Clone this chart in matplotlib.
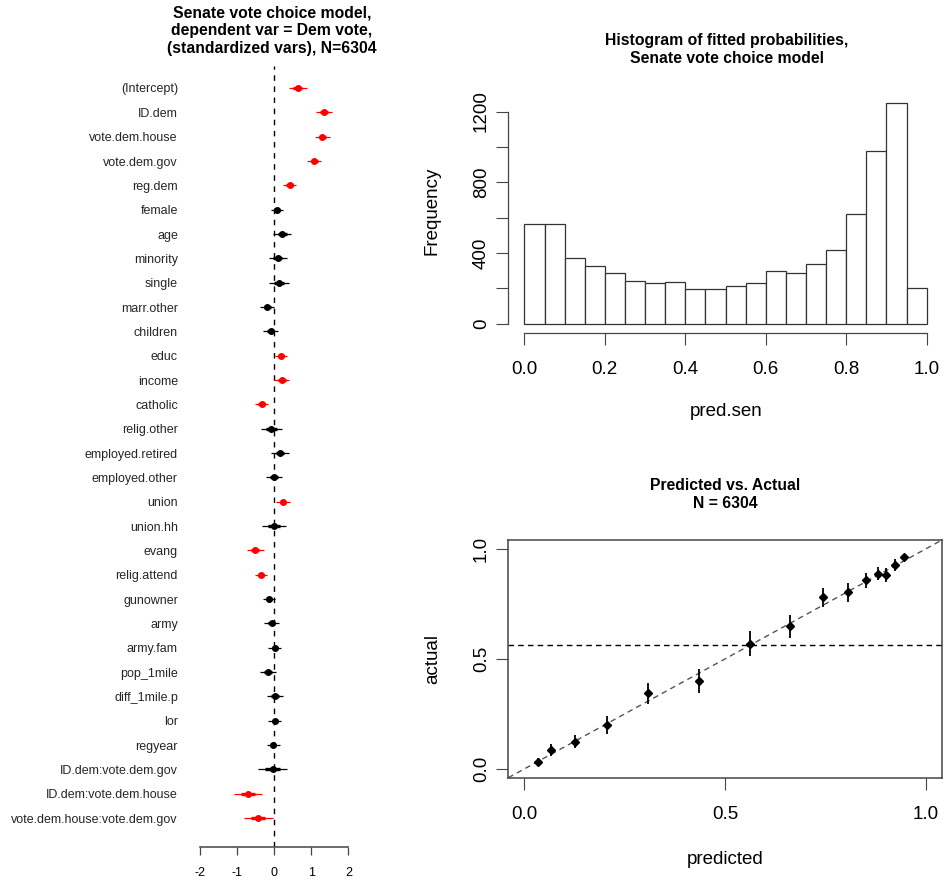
import numpy as np
import matplotlib
matplotlib.use("Agg")
import matplotlib.pyplot as plt

plt.rcParams['font.family'] = ['Liberation Sans', 'DejaVu Sans']

# coefficient plot data (standardized logit coefficients, +/- se)
coef_names = ["(Intercept)", "ID.dem", "vote.dem.house", "vote.dem.gov", "reg.dem",
              "female", "age", "minority", "single", "marr.other", "children",
              "educ", "income", "catholic", "relig.other", "employed.retired",
              "employed.other", "union", "union.hh", "evang", "relig.attend",
              "gunowner", "army", "army.fam", "pop_1mile", "diff_1mile.p", "lor",
              "regyear", "ID.dem:vote.dem.gov", "ID.dem:vote.dem.house",
              "vote.dem.house:vote.dem.gov"]
coef_est = [0.64, 1.34, 1.30, 1.08, 0.42,
            0.08, 0.22, 0.10, 0.13, -0.18, -0.09,
            0.20, 0.21, -0.33, -0.07, 0.16,
            0.00, 0.24, 0.01, -0.50, -0.34,
            -0.13, -0.06, 0.02, -0.16, 0.02, 0.02,
            -0.02, -0.04, -0.70, -0.42]
coef_se = [0.12, 0.11, 0.10, 0.09, 0.09,
           0.085, 0.125, 0.12, 0.13, 0.095, 0.10,
           0.08, 0.10, 0.09, 0.14, 0.115,
           0.11, 0.09, 0.16, 0.11, 0.08,
           0.08, 0.10, 0.085, 0.105, 0.105, 0.085,
           0.085, 0.19, 0.19, 0.19]

# histogram of fitted probabilities
hist_breaks = np.linspace(0, 1, 21)
hist_counts = [563, 563, 374, 329, 285, 242, 231, 236, 197, 197,
               213, 231, 297, 287, 336, 414, 620, 977, 1251, 202]

# predicted vs actual (binned)
pred = [0.034, 0.067, 0.127, 0.207, 0.309, 0.434, 0.561, 0.661,
        0.744, 0.807, 0.851, 0.881, 0.901, 0.924, 0.946]
actual = [0.033, 0.085, 0.124, 0.199, 0.343, 0.400, 0.569, 0.647,
          0.779, 0.802, 0.856, 0.887, 0.882, 0.926, 0.965]
actual_err = [0.017, 0.026, 0.031, 0.042, 0.048, 0.054, 0.057, 0.053,
              0.043, 0.042, 0.036, 0.031, 0.033, 0.026, 0.013]
mean_actual = 0.564

W, H = 947, 882
fig = plt.figure(figsize=(W / 100, H / 100), dpi=100)


def add_ax(l, t, r, b):
    return fig.add_axes([l / W, 1 - b / H, (r - l) / W, (b - t) / H])


axcol = "#444444"
tick_fs = 13.5
title_kw = dict(ha="center", va="top", fontsize=11.3, fontweight="bold", linespacing=1.25)

# ---- left: coefficient plot
ax = add_ax(180, 66, 368, 847)
n = len(coef_names)
ypos = -np.arange(n)
ax.axvline(0, color="black", lw=1, linestyle=(0, (4, 4)))
for yy, c, s in zip(ypos, coef_est, coef_se):
    col = "red" if abs(c) > 2 * s else "black"
    ax.plot([c - 2 * s, c + 2 * s], [yy, yy], color=col, lw=0.9, solid_capstyle="butt")
    ax.plot([c - s, c + s], [yy, yy], color=col, lw=2.4, solid_capstyle="butt")
    ax.plot(c, yy, "o", color=col, ms=4, mec=col)
ax.set_xlim(-2.527, 2.527)
ax.set_ylim(-31.19, 0.904)
ax.set_yticks(ypos)
ax.set_yticklabels(coef_names, fontsize=9, color="#262626")
ax.tick_params(axis="y", length=0, pad=1.5)
ax.set_xticks([-2, -1, 0, 1, 2])
ax.set_xticklabels(["-2", "-1", "0", "1", "2"], fontsize=9)
ax.tick_params(axis="x", length=5.8, width=0.9, color=axcol, pad=8.5)
for side in ["left", "top", "right"]:
    ax.spines[side].set_visible(False)
ax.spines["bottom"].set_bounds(-2, 2)
ax.spines["bottom"].set_color(axcol)
ax.spines["bottom"].set_linewidth(1.1)
fig.text(272 / W, 1 - 5 / H,
         "Senate vote choice model,\ndependent var = Dem vote,\n(standardized vars), N=6304",
         **title_kw)

# ---- top right: histogram
ah = add_ax(508.3, 93.7, 942.8, 332.5)
ah.bar(hist_breaks[:-1], hist_counts, width=np.diff(hist_breaks), align="edge",
       color="white", edgecolor="#333333", linewidth=0.9)
ah.set_xlim(-0.04, 1.04)
ah.set_ylim(-50.04, 1301.04)
for side in ["top", "right"]:
    ah.spines[side].set_visible(False)
ah.spines["left"].set_bounds(0, 1200)
ah.spines["bottom"].set_bounds(0, 1)
for side in ["left", "bottom"]:
    ah.spines[side].set_color(axcol)
    ah.spines[side].set_linewidth(0.9)
ah.set_xticks([0, 0.2, 0.4, 0.6, 0.8, 1.0])
ah.set_xticklabels(["0.0", "0.2", "0.4", "0.6", "0.8", "1.0"], fontsize=tick_fs)
ah.set_yticks([0, 200, 400, 600, 800, 1000, 1200])
ah.set_yticklabels(["0", "", "400", "", "800", "", "1200"], fontsize=tick_fs,
                   rotation=90, va="center")
ah.tick_params(axis="x", length=8.3, width=0.8, color=axcol, pad=12)
ah.tick_params(axis="y", length=8.3, width=0.8, color=axcol, pad=5)
fig.text(432 / W, 1 - 211 / H, "Frequency", rotation=90, ha="center", va="center",
         fontsize=tick_fs)
fig.text(726 / W, 1 - 412 / H, "pred.sen", ha="center", va="center", fontsize=tick_fs)
fig.text(727 / W, 1 - 33 / H, "Histogram of fitted probabilities,\nSenate vote choice model",
         **title_kw)

# ---- bottom right: predicted vs actual
ac = add_ax(508.3, 540, 942, 777.7)
ac.axline((0, 0), (1, 1), color="#555555", lw=1, linestyle=(0, (4, 3)))
ac.axhline(mean_actual, color="black", lw=1, linestyle=(0, (4, 3)))
ac.errorbar(pred, actual, yerr=actual_err, fmt="D", ms=4, color="black",
            elinewidth=1.3, capsize=0)
ac.set_xlim(-0.04, 1.04)
ac.set_ylim(-0.04, 1.04)
for side in ac.spines:
    ac.spines[side].set_color(axcol)
    ac.spines[side].set_linewidth(1.1)
ac.set_xticks([0, 0.5, 1.0])
ac.set_xticklabels(["0.0", "0.5", "1.0"], fontsize=tick_fs)
ac.set_yticks([0, 0.5, 1.0])
ac.set_yticklabels(["0.0", "0.5", "1.0"], fontsize=tick_fs, rotation=90, va="center")
ac.tick_params(axis="x", length=8.3, width=0.8, color=axcol, pad=12)
ac.tick_params(axis="y", length=8.3, width=0.8, color=axcol, pad=5)
fig.text(433 / W, 1 - 659 / H, "actual", rotation=90, ha="center", va="center",
         fontsize=tick_fs)
fig.text(725 / W, 1 - 859 / H, "predicted", ha="center", va="center", fontsize=tick_fs)
fig.text(725 / W, 1 - 478 / H, "Predicted vs. Actual\nN = 6304", **title_kw)

fig.savefig("out.png", dpi=100)
